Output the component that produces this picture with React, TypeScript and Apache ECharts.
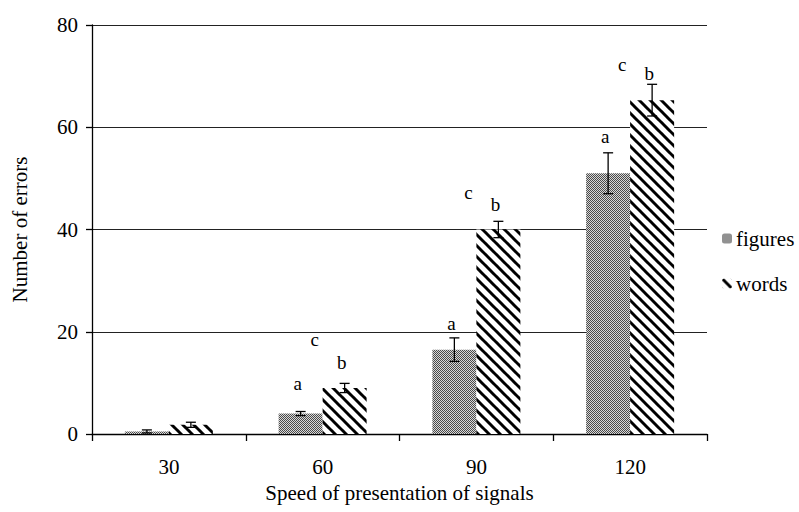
import React, { useEffect, useRef } from "react";
import * as echarts from "echarts";

const categories = ["30", "60", "90", "120"];
const figures = [0.5, 4, 16.5, 51];
const figuresErr = [0.3, 0.4, 2.3, 4];
const words = [1.8, 9, 40, 65.3];
const wordsErr = [0.5, 0.9, 1.6, 3.1];
// letter annotations (height in data units, null = none)
const letterA = [null, 9.8, 21.7, 58.1];
const letterB = [null, 13.9, 44.8, 70.6];
const letterC = [null, 18.4, 47.3, 72.2];
const yTicks = [0, 20, 40, 60, 80];

const SERIF = "Liberation Serif";
const BAR_W = 44;

function stripeTile(): HTMLCanvasElement {
  const s = 11;
  const c = document.createElement("canvas");
  c.width = s;
  c.height = s;
  const ctx = c.getContext("2d")!;
  ctx.fillStyle = "#fff";
  ctx.fillRect(0, 0, s, s);
  ctx.strokeStyle = "#000";
  ctx.lineWidth = 3;
  for (const o of [-s, 0, s]) {
    ctx.beginPath();
    ctx.moveTo(o - 1, -1);
    ctx.lineTo(o + s + 1, s + 1);
    ctx.stroke();
  }
  return c;
}

function dotTile(): HTMLCanvasElement {
  const c = document.createElement("canvas");
  c.width = 2;
  c.height = 2;
  const ctx = c.getContext("2d")!;
  ctx.fillStyle = "#d8d8d8";
  ctx.fillRect(0, 0, 2, 2);
  ctx.fillStyle = "#4a4a4a";
  ctx.fillRect(0, 0, 1, 1);
  ctx.fillRect(1, 1, 1, 1);
  return c;
}

export default function App() {
  const ref = useRef<HTMLDivElement>(null);
  useEffect(() => {
    if (!ref.current) return;
    const chart = echarts.init(ref.current, null, { renderer: "svg" });
    const stripe = stripeTile();
    const dots = dotTile();
    const stripeColor: any = {
      image: stripe.toDataURL(),
      repeat: "repeat",
      imageWidth: 11,
      imageHeight: 11,
    };
    const dotColor: any = {
      image: dots.toDataURL(),
      repeat: "repeat",
      imageWidth: 2,
      imageHeight: 2,
    };

    const errSeries = (vals: number[], errs: number[], offset: number) => ({
      type: "custom",
      silent: true,
      z: 5,
      data: vals.map((v, i) => [i, v, errs[i]]),
      renderItem: (params: any, api: any) => {
        const i = api.value(0);
        const m = api.value(1);
        const e = api.value(2);
        const hi = api.coord([i, m + e]);
        const lo = api.coord([i, m - e]);
        const x = hi[0] + offset;
        const cap = 5;
        const st = { stroke: "#000", lineWidth: 1.3 };
        return {
          type: "group",
          children: [
            { type: "line", shape: { x1: x, y1: hi[1], x2: x, y2: lo[1] }, style: st },
            { type: "line", shape: { x1: x - cap, y1: hi[1], x2: x + cap, y2: hi[1] }, style: st },
            { type: "line", shape: { x1: x - cap, y1: lo[1], x2: x + cap, y2: lo[1] }, style: st },
          ],
        };
      },
    });

    const letterSeries = (vals: (number | null)[], letter: string, offset: number) => ({
      type: "custom",
      silent: true,
      z: 6,
      data: vals.map((v, i) => (v == null ? [i, "-"] : [i, v])),
      renderItem: (params: any, api: any) => {
        const i = api.value(0);
        const v = api.value(1);
        if (v == null || isNaN(v)) return null;
        const p = api.coord([i, v]);
        return {
          type: "text",
          x: p[0] + offset,
          y: p[1],
          style: {
            text: letter,
            fontFamily: SERIF,
            fontSize: 19,
            fill: "#000",
            align: "center",
            verticalAlign: "middle",
          },
        };
      },
    });

    chart.setOption({
      animation: false,
      backgroundColor: "#fff",
      textStyle: { fontFamily: SERIF },
      grid: { left: 92, right: 92, top: 25, bottom: 78 },
      legend: {
        orient: "vertical",
        left: 717,
        top: 223,
        itemWidth: 10,
        itemHeight: 10,
        itemGap: 24,
        data: ["figures", "words"],
        textStyle: { fontFamily: SERIF, fontSize: 21, color: "#000", padding: [0, 0, 0, -1] },
      },
      xAxis: {
        type: "category",
        data: categories,
        name: "Speed of presentation of signals",
        nameLocation: "middle",
        nameGap: 48,
        nameTextStyle: { fontFamily: SERIF, fontSize: 21, color: "#000" },
        axisLine: { lineStyle: { color: "#000", width: 1.3 } },
        axisTick: { show: true, length: 7, lineStyle: { color: "#000", width: 1.3 } },
        axisLabel: { fontFamily: SERIF, fontSize: 21, color: "#000", margin: 22 },
      },
      yAxis: {
        type: "value",
        min: yTicks[0],
        max: yTicks[yTicks.length - 1],
        interval: 20,
        name: "Number of errors",
        nameLocation: "middle",
        nameGap: 62,
        nameTextStyle: { fontFamily: SERIF, fontSize: 21, color: "#000" },
        axisLine: { show: true, lineStyle: { color: "#000", width: 1.3 } },
        axisTick: { show: true, length: 6, lineStyle: { color: "#000", width: 1.3 } },
        axisLabel: { fontFamily: SERIF, fontSize: 21, color: "#000", margin: 14 },
        splitLine: { show: true, lineStyle: { color: "#222", width: 1.2 } },
      },
      series: [
        {
          name: "figures",
          type: "bar",
          data: figures,
          barWidth: BAR_W,
          barGap: "0%",
          z: 3,
          itemStyle: { color: dotColor },
        },
        {
          name: "words",
          type: "bar",
          data: words,
          barWidth: BAR_W,
          barGap: "0%",
          z: 3,
          itemStyle: { color: stripeColor },
        },
        errSeries(figures, figuresErr, -BAR_W / 2),
        errSeries(words, wordsErr, BAR_W / 2),
        letterSeries(letterA, "a", -BAR_W / 2 - 3),
        letterSeries(letterB, "b", BAR_W / 2 - 3),
        letterSeries(letterC, "c", -8),
      ],
    });
    return () => chart.dispose();
  }, []);
  return (
    <div
      ref={ref}
      style={{ position: "absolute", left: 0, top: 0, width: 799, height: 512 }}
    />
  );
}
